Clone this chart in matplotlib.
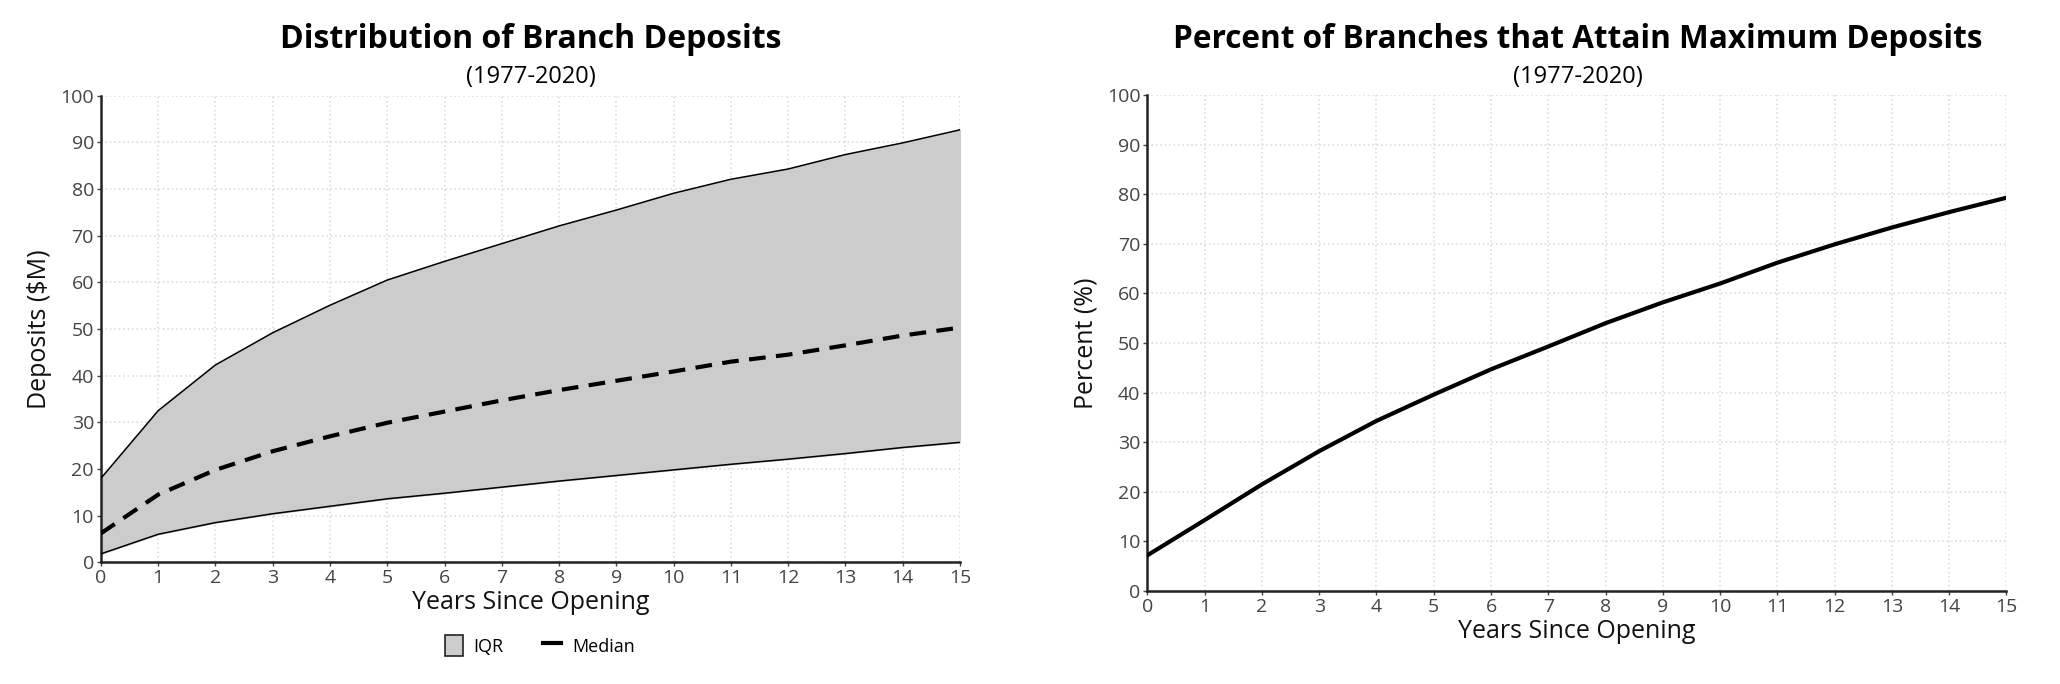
import matplotlib
matplotlib.use('Agg')
import matplotlib.pyplot as plt
import numpy as np
from matplotlib.patches import Patch
from matplotlib.lines import Line2D

plt.rcParams['font.family'] = ['Open Sans', 'DejaVu Sans']

# --- data ---
years = list(range(0, 16))
iqr_upper = [18.0, 32.5, 42.3, 49.2, 55.1, 60.5, 64.5, 68.3, 72.1, 75.5, 79.1, 82.1, 84.3, 87.4, 89.9, 92.7]
median = [6.2, 14.5, 19.8, 23.8, 27.0, 29.9, 32.3, 34.7, 36.9, 38.9, 40.9, 43.0, 44.5, 46.5, 48.6, 50.3]
iqr_lower = [1.8, 6.0, 8.5, 10.4, 12.0, 13.6, 14.8, 16.1, 17.4, 18.6, 19.8, 21.0, 22.1, 23.3, 24.6, 25.7]
pct_max = [7.2, 14.3, 21.5, 28.2, 34.3, 39.6, 44.7, 49.3, 54.0, 58.2, 62.0, 66.2, 69.9, 73.3, 76.4, 79.3]

fig = plt.figure(figsize=(20.6, 6.84), dpi=100)
ax1 = fig.add_axes([0.049, 0.178, 0.417, 0.682])
ax2 = fig.add_axes([0.557, 0.136, 0.417, 0.725])


def style_axes(ax):
    ax.set_xlim(0, 15)
    ax.set_ylim(0, 100)
    ax.set_xticks(years)
    ax.set_yticks(range(0, 101, 10))
    ax.grid(True, color='#dddddd', linestyle=':', linewidth=1.2)
    ax.set_axisbelow(True)
    for s in ['top', 'right']:
        ax.spines[s].set_visible(False)
    for s in ['left', 'bottom']:
        ax.spines[s].set_linewidth(1.8)
        ax.spines[s].set_color('#222222')
    ax.tick_params(axis='both', length=3, width=1, color='#444444',
                   labelsize=14, labelcolor='#444444', pad=2)
    ax.set_xlabel('Years Since Opening', fontsize=18, color='#111111', labelpad=2)


# left: distribution
ax1.fill_between(years, iqr_lower, iqr_upper, color='#cccccc', zorder=2)
ax1.plot(years, iqr_upper, color='black', linewidth=1.1, zorder=3)
ax1.plot(years, iqr_lower, color='black', linewidth=1.1, zorder=3)
ax1.plot(years, median, color='black', linewidth=3, linestyle=(0, (4, 2.5)), zorder=4)
style_axes(ax1)
ax1.set_ylabel('Deposits ($M)', fontsize=18, color='#111111', labelpad=6)
fig.text(0.2575, 0.942, 'Distribution of Branch Deposits',
         ha='center', va='center', fontsize=23, fontweight='bold')
fig.text(0.2575, 0.888, '(1977-2020)', ha='center', va='center', fontsize=17)
handles = [Patch(facecolor='#cccccc', edgecolor='#222222', linewidth=1.2, label='IQR'),
           Line2D([0], [0], color='black', linewidth=3, label='Median')]
fig.legend(handles=handles, loc='center', bbox_to_anchor=(0.262, 0.056), ncol=2,
           frameon=False, fontsize=13, handlelength=1.0, handleheight=1.4,
           columnspacing=2.2, handletextpad=0.6)

# right: percent attaining max
ax2.plot(years, pct_max, color='black', linewidth=3, zorder=3)
style_axes(ax2)
ax2.set_ylabel('Percent (%)', fontsize=18, color='#111111', labelpad=6)
fig.text(0.766, 0.942, 'Percent of Branches that Attain Maximum Deposits',
         ha='center', va='center', fontsize=22.7, fontweight='bold')
fig.text(0.766, 0.888, '(1977-2020)', ha='center', va='center', fontsize=17)

fig.savefig('out.png', dpi=100)
